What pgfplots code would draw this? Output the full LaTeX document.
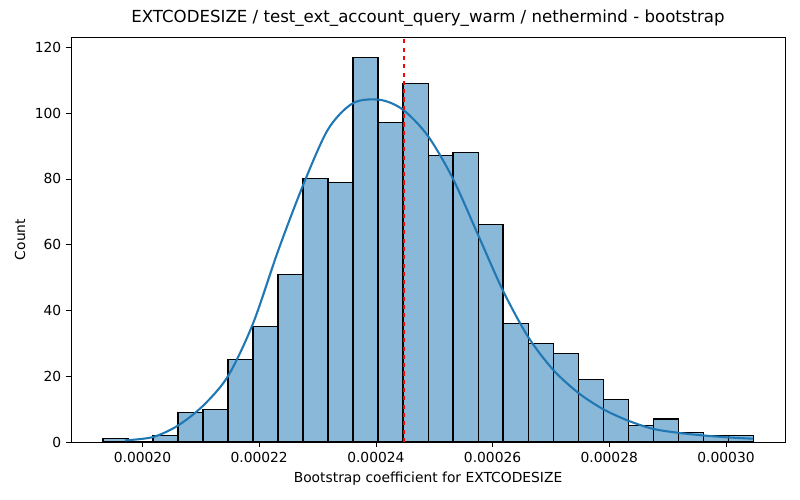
\documentclass[border=0pt]{standalone}
\usepackage{pgfplots}
\pgfplotsset{compat=1.18}
\usepackage{fontspec}
\setmainfont{DejaVu Sans}
\definecolor{hist}{RGB}{137,184,216}
\definecolor{kde}{RGB}{31,119,180}
\begin{document}
\begin{tikzpicture}
\path[use as bounding box] (-0.71in,-0.58in) rectangle (7.29in,4.42in);
\begin{axis}[
  scale only axis, width=7.14in, height=4.05in,
  xmin=0.00018775, xmax=0.00031011, ymin=0, ymax=123.1,
  xtick={0.0002,0.00022,0.00024,0.00026,0.00028,0.0003},
  xticklabels={0.00020,0.00022,0.00024,0.00026,0.00028,0.00030},
  ytick={0,20,40,60,80,100,120},
  scaled x ticks=false,
  /pgf/number format/assume math mode=true,
  tick label style={font=\fontsize{10}{12}\selectfont},
  label style={font=\fontsize{10}{12}\selectfont},
  tick align=outside, tick style={black}, major tick length=3.5pt,
  xtick pos=bottom, ytick pos=left,
  xlabel={Bootstrap coefficient for EXTCODESIZE}, ylabel={Count},
  title={EXTCODESIZE / test\_ext\_account\_query\_warm / nethermind - bootstrap},
  title style={font=\fontsize{12}{14}\selectfont, yshift=-2pt},
]
\addplot[ybar interval, fill=hist, draw=black, line width=0.8pt] coordinates {
(0.00019323,1)(0.00019752,0)(0.00020180,2)(0.00020609,9)(0.00021037,10)
(0.00021466,25)(0.00021894,35)(0.00022323,51)(0.00022751,80)(0.00023180,79)
(0.00023608,117)(0.00024037,97)(0.00024465,109)(0.00024894,87)(0.00025322,88)
(0.00025751,66)(0.00026179,36)(0.00026608,30)(0.00027036,27)(0.00027465,19)
(0.00027893,13)(0.00028322,5)(0.00028750,7)(0.00029179,3)(0.00029607,2)
(0.00030036,2)(0.00030464,2)};
\addplot[kde, line width=1.5pt, smooth] coordinates {
(0.00019700,0.5)(0.00020180,1.5)(0.00020608,5)(0.00021037,11)(0.00021465,20)
(0.00021894,36)(0.00022322,58)(0.00022751,78)(0.00023179,95)(0.00023608,103)
(0.00024070,104)(0.00024464,101)(0.00024893,93)(0.00025321,80)(0.00025750,63)
(0.00026178,46)(0.00026607,32)(0.00027035,22)(0.00027464,15)(0.00027892,10)
(0.00028321,6.5)(0.00028749,4)(0.00029178,2.8)(0.00029606,2)(0.00030035,1.4)
(0.00030463,1)};
\addplot[red, dashed, line width=1pt] coordinates {(0.00024482,0)(0.00024482,123.1)};
\end{axis}
\end{tikzpicture}
\end{document}
